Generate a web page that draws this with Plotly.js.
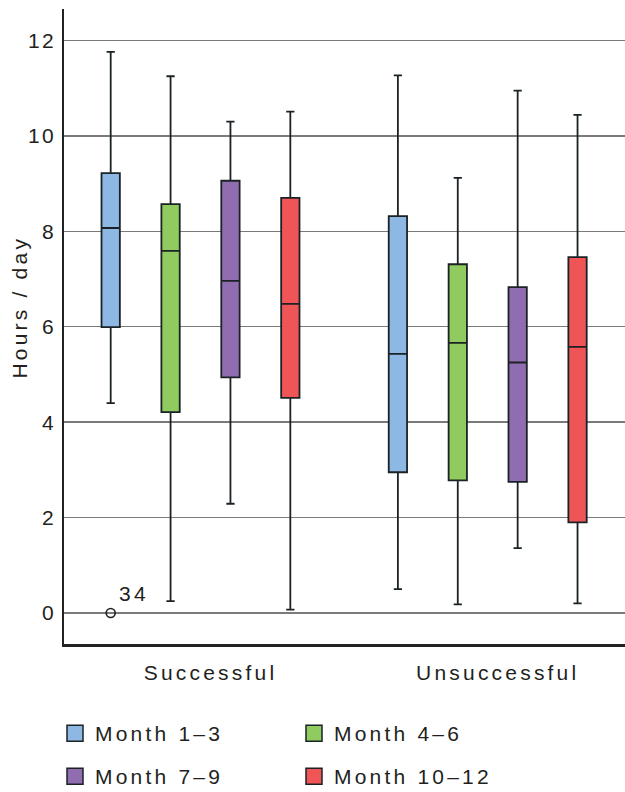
<!DOCTYPE html>
<html><head><meta charset="utf-8">
<script src="https://cdn.plot.ly/plotly-3.0.1.min.js"></script>
<style>
html,body{margin:0;padding:0;background:#fff}
#chart{width:625px;height:792px}
svg text{letter-spacing:3.2px}
svg .ytick text{letter-spacing:2.5px}
</style></head><body><div id="chart"></div>
<script>
const categories = ['Successful', 'Unsuccessful'];
const seriesNames = ['Month 1–3', 'Month 4–6', 'Month 7–9', 'Month 10–12'];
const seriesColors = ['#8cb8e3', '#8fcb5e', '#8f6db0', '#ef5556'];
// per series: [Successful, Unsuccessful]
const upperFence = [[11.76, 11.27], [11.25, 9.12], [10.30, 10.95], [10.51, 10.44]];
const q3Values   = [[9.22, 8.32], [8.57, 7.31], [9.06, 6.83], [8.70, 7.46]];
const medians    = [[8.07, 5.43], [7.59, 5.66], [6.96, 5.25], [6.48, 5.58]];
const q1Values   = [[5.99, 2.95], [4.21, 2.78], [4.94, 2.75], [4.51, 1.90]];
const lowerFence = [[4.40, 0.50], [0.25, 0.18], [2.29, 1.36], [0.07, 0.20]];
const outliers   = [[[0], []], null, null, null];
const outlierLabel = '34';
const yTickVals = [0, 2, 4, 6, 8, 10, 12];
const yTitle = 'Hours / day';

const FONT = 'Liberation Sans, Arial, Helvetica, sans-serif';
const FS = 21;
const TXT = '#231f20';
const LINE = '#1b2226';

const traces = [];
seriesNames.forEach((name, i) => {
  const t = {
    type: 'box', name: name, showlegend: false,
    x: categories,
    q1: q1Values[i], median: medians[i], q3: q3Values[i],
    lowerfence: lowerFence[i], upperfence: upperFence[i],
    boxpoints: outliers[i] ? 'outliers' : false, jitter: 0, pointpos: 0,
    fillcolor: seriesColors[i],
    line: {color: LINE, width: 1.8},
    whiskerwidth: 0.45,
    marker: {symbol: 'circle-open', size: 9, color: LINE, line: {width: 1.6, color: LINE}},
    hoverinfo: 'skip'
  };
  if (outliers[i]) t.y = outliers[i];
  traces.push(t);
});
seriesNames.forEach((name, i) => {
  traces.push({
    type: 'scatter', mode: 'markers', name: name,
    x: [null], y: [null],
    legend: i < 2 ? 'legend' : 'legend2',
    marker: {symbol: 'square', size: 16, color: seriesColors[i], line: {color: LINE, width: 1.5}},
    hoverinfo: 'skip'
  });
});

const legendBase = {
  orientation: 'h', xref: 'container', yref: 'container',
  xanchor: 'left', yanchor: 'top',
  entrywidth: 194, entrywidthmode: 'pixels',
  font: {family: FONT, size: FS, color: TXT},
  bgcolor: 'rgba(0,0,0,0)', itemclick: false, itemdoubleclick: false
};

const layout = {
  width: 625, height: 792,
  margin: {l: 64, r: 0, t: 9, b: 148},
  paper_bgcolor: '#fff', plot_bgcolor: '#fff',
  font: {family: FONT, size: FS, color: TXT},
  boxmode: 'group', boxgap: 0.166, boxgroupgap: 0.694,
  showlegend: true,
  legend: Object.assign({}, legendBase, {x: 55 / 625, y: 1 - 713 / 792}),
  legend2: Object.assign({}, legendBase, {x: 55 / 625, y: 1 - 756 / 792}),
  xaxis: {
    type: 'category', categoryorder: 'array', categoryarray: categories,
    range: [-0.4753, 1.478], showgrid: false, zeroline: false,
    showline: true, linecolor: '#222', linewidth: 2.5,
    ticks: '', ticklabelshift: 10, ticklabelstandoff: 8,
    tickfont: {family: FONT, size: FS, color: TXT}, fixedrange: true
  },
  yaxis: {
    range: [-0.65, 12.66], tickvals: yTickVals, ticktext: yTickVals.map(String),
    showgrid: true, gridcolor: '#7a7a7a', gridwidth: 1.5, zeroline: false,
    showline: true, linecolor: '#222', linewidth: 2.5,
    ticks: '', ticklabelstandoff: 1,
    tickfont: {family: FONT, size: FS, color: TXT}, fixedrange: true
  },
  annotations: [
    {text: yTitle, xref: 'paper', yref: 'paper', x: 0, y: (644 - 307) / 635,
     xshift: -45.5, xanchor: 'center', yanchor: 'middle', textangle: -90,
     showarrow: false, font: {family: FONT, size: FS, color: TXT}},
    {text: outlierLabel, xref: 'x', yref: 'y', x: categories[0], y: 0,
     xshift: -84, yshift: 19, xanchor: 'left', yanchor: 'middle',
     showarrow: false, font: {family: FONT, size: FS, color: TXT}}
  ]
};

Plotly.newPlot('chart', traces, layout, {displayModeBar: false, staticPlot: true});
</script></body></html>
